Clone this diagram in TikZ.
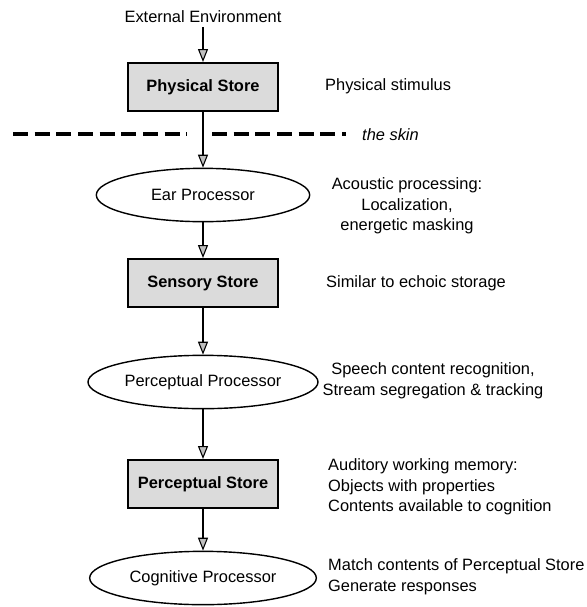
\documentclass[tikz,border=0pt]{standalone}
\usepackage{fontspec}
\setmainfont{Liberation Sans}
\usetikzlibrary{shapes.geometric,arrows.meta}

\begin{document}
\begin{tikzpicture}[x=0.03cm,y=-0.03cm,
  font=\fontsize{14}{17.5}\selectfont,
  store/.style={draw,line width=1.5pt,fill=gray!28,minimum width=4.5cm,minimum height=1.45cm,font=\fontsize{14}{17.5}\selectfont\bfseries},
  proc/.style={draw,ellipse,line width=1.2pt,minimum height=1.6cm,inner sep=0pt},
  flow/.style={line width=0.9pt,-{Triangle[fill=gray!50,length=11pt,width=8.5pt]}},
  skin/.style={line width=3pt,dash pattern=on 0.45cm off 0.2cm},
  note/.style={anchor=west,inner sep=0pt,align=left}]
\useasboundingbox (0,0) rectangle (587,607);
\node (env) at (203,17) {External Environment};
\node[store] (phys) at (203,87) {Physical Store};
\node[proc,minimum width=6.4cm] (ear) at (203,195) {Ear Processor};
\node[store] (sens) at (203,283) {Sensory Store};
\node[proc,minimum width=6.9cm] (percp) at (203,382) {Perceptual Processor};
\node[store] (percs) at (203,484) {Perceptual Store};
\node[proc,minimum width=6.8cm] (cog) at (203,578) {Cognitive Processor};
\draw[flow] (env) -- (phys);
\draw[flow] (phys) -- (ear);
\draw[flow] (ear) -- (sens);
\draw[flow] (sens) -- (percp);
\draw[flow] (percp) -- (percs);
\draw[flow] (percs) -- (cog);
\draw[skin] (13,134) -- (187,134);
\draw[skin] (212,134) -- (346,134);
\node[note,font=\fontsize{14}{17.5}\selectfont\itshape] (skintxt) at (362,135) {the skin};
\node[note] (stim) at (325,86) {Physical stimulus};
\node[align=center,inner sep=0pt] (acou) at (407,206) {Acoustic processing:\\Localization,\\energetic masking};
\node[note] (echo) at (326,283) {Similar to echoic storage};
\node[align=center,inner sep=0pt] (speech) at (433,381) {Speech content recognition,\\Stream segregation \& tracking};
\node[note] (audit) at (328,487) {Auditory working memory:\\Objects with properties\\Contents available to cognition};
\node[note] (match) at (328,577) {Match contents of Perceptual Store\\Generate responses};
\end{tikzpicture}
\end{document}
